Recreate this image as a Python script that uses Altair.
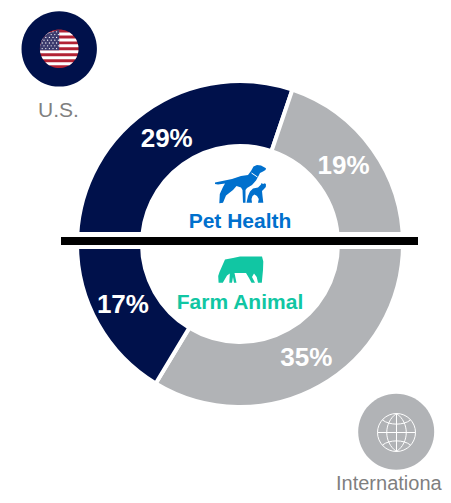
import math
import altair as alt
import pandas as pd

# ---- chart values ----
top_regions = ["U.S.", "International"]
top_values = [29, 19]
bottom_regions = ["International", "U.S."]
bottom_values = [35, 17]
top_title = "Pet Health"
bottom_title = "Farm Animal"

NAVY = "#00114B"
GREY = "#B1B3B6"
BLUE = "#0070CD"
TEAL = "#11C6A3"
TEXT = "#7F7F7F"
FONT = "Liberation Sans"
OX, OY = 8, 8  # page margin


def px(x):
    return alt.value(x - OX)


def py(y):
    return alt.value(y - OY)


color = alt.Color(
    "region:N",
    scale=alt.Scale(domain=["U.S.", "International"], range=[NAVY, GREY]),
    legend=None,
)
CX, CY = 240, 244


def half(regions, values, start, end, nudges):
    df = pd.DataFrame({"region": regions, "value": values, "ord": range(len(values))})
    df["label"] = [f"{v}%" for v in values]
    theta = alt.Theta(
        "value:Q",
        stack=True,
        scale=alt.Scale(domain=[0, sum(values)], range=[start, end]),
    )
    base = alt.Chart(df).encode(theta=theta, order=alt.Order("ord:Q"))
    arc = base.mark_arc(radius=163, radius2=98, stroke="white", strokeWidth=4).encode(
        color=color, x=px(CX), y=py(CY)
    )
    layers = [arc]
    for region, (dx, dy) in zip(regions, nudges):
        layers.append(
            base.mark_text(
                radius=131, font=FONT, fontWeight="bold", fontSize=26, color="white",
                dx=dx, dy=dy,
            ).encode(
                text="label:N",
                x=px(CX),
                y=py(CY),
                opacity=alt.condition(
                    alt.datum.region == region, alt.value(1), alt.value(0)
                ),
            )
        )
    return alt.layer(*layers)


top = half(top_regions, top_values, -math.pi / 2, math.pi / 2, [(3, 1), (-3, -2)])
bottom = half(bottom_regions, bottom_values, math.pi / 2, 3 * math.pi / 2, [(2, 0), (-3, -3)])

one = alt.Chart(pd.DataFrame({"k": [0]}))


def rect(x1, x2, y1, y2, fill):
    return one.mark_rect(color=fill, opacity=1).encode(
        x=px(x1), x2=px(x2), y=py(y1), y2=py(y2)
    )


def shape(path, fill=None, stroke=None, sw=1):
    kw = dict(shape=path, size=4, opacity=1)
    if fill:
        kw.update(filled=True, fill=fill, strokeWidth=0)
    else:
        kw.update(filled=False, stroke=stroke, strokeWidth=sw, fillOpacity=0)
    return one.mark_point(**kw).encode(x=px(0), y=py(0))


def disc(cx, cy, r):
    return (
        f"M{cx-r},{cy}A{r},{r} 0 1 1 {cx+r},{cy}A{r},{r} 0 1 1 {cx-r},{cy}Z"
    )


def text(s, x, y, size, fill, weight="normal", align="center"):
    return one.mark_text(
        text=s, font=FONT, fontSize=size, fontWeight=weight, color=fill, align=align,
        baseline="alphabetic",
    ).encode(x=px(x), y=py(y))


# flag
FX, FY, FR = 59.2, 48.8, 19.3
def chord_band(y0, y1, xmax=None, xmin=None):
    pts_l, pts_r = [], []
    n = 5
    for i in range(n + 1):
        y = y0 + (y1 - y0) * i / n
        dx = math.sqrt(max(FR * FR - (y - FY) ** 2, 0))
        l = FX - dx
        r = FX + dx
        if xmin is not None:
            l = max(l, xmin)
        if xmax is not None:
            r = min(r, xmax)
        pts_l.append((l, y))
        pts_r.append((r, y))
    pts = pts_l + pts_r[::-1]
    return "M" + "L".join(f"{a:.2f},{b:.2f}" for a, b in pts) + "Z"

stripe_h = 2 * FR / 13
canton_y = FY - FR + 7 * stripe_h
white_stripes = "".join(
    chord_band(FY - FR + (2 * i + 1) * stripe_h, FY - FR + (2 * i + 2) * stripe_h)
    for i in range(6)
)
canton = chord_band(FY - FR, canton_y, xmax=FX)
stars = ""
for row in range(7):
    for col in range(5):
        sx = FX - 17 + col * 3.6 + (1.8 if row % 2 else 0)
        sy = FY - 17 + row * 2.8
        if (sx - FX) ** 2 + (sy - FY) ** 2 < (FR - 1) ** 2 and sx < FX - 0.6:
            stars += disc(round(sx, 2), round(sy, 2), 0.65)

# globe
GX, GY, GR = 396.5, 432.5, 19
globe = (
    disc(GX, GY, GR)
    + f"M{GX},{GY-GR}L{GX},{GY+GR}M{GX-GR},{GY}L{GX+GR},{GY}"
    + f"M{GX},{GY-GR}C{GX-13},{GY-10} {GX-13},{GY+10} {GX},{GY+GR}"
    + f"M{GX},{GY-GR}C{GX+13},{GY-10} {GX+13},{GY+10} {GX},{GY+GR}"
    + f"M{GX-14},{GY-12.5}C{GX-7},{GY-7} {GX+7},{GY-7} {GX+14},{GY-12.5}"
    + f"M{GX-14},{GY+12.5}C{GX-7},{GY+7} {GX+7},{GY+7} {GX+14},{GY+12.5}"
)

dog = (
    "M215,182.5L232,179L241,176L248,175L251,171L253.5,166.5L257,165L261,165.5L266,168.3"
    "L265.5,170L263,171.5L260,173L258.5,176L256,180.5L252,185L247,188L245.5,190L245.5,202.8"
    "L243,202.8L242.5,190L241,187.5L236.5,186L233,190L226,195.5L223,202.8L219.3,203.3"
    "L219.8,194L223,187L225,183.5L218,184.5L215,184Z"
    # cat
    "M246.5,202.8L248,196L250,191.5L253,188.5L258,187.5L261,184.5L261.5,183L263,184L265,183.2"
    "L266,184.5L265.8,187L264,189L262,191L262.5,196L263.3,202.8L258,202.8L258.8,199L257,196"
    "L254.5,194.5L252.5,196L251.5,199L252,202.8Z"
)
collar = "M251.5,173L257.5,177"
cow = (
    "M225,259.5L233,258L240,256.5L262,256.5L263.3,261.5L263,270L261.8,282.7L258,282.7L256.7,277"
    "L254,273.5L252,277L255,282.7L251.5,282.7L249,278L246,273L234.5,273L236.5,282.7L234,282.7"
    "L233,277L232,282.7L229.3,282.7L229.8,273.5L227,275.5L222.8,282.7L218.6,282.7L218.2,276L219.5,272Z"
)

band = rect(70, 410, 232, 249, "white")
bar = rect(61, 418, 237, 245, "black")

chart = alt.layer(
    top,
    bottom,
    band,
    bar,
    shape(dog, fill=BLUE),
    shape(collar, stroke="white", sw=1),
    shape(cow, fill=TEAL),
    text(top_title, 240, 228, 21, BLUE, "bold"),
    text(bottom_title, 240, 308.5, 21, TEAL, "bold"),
    shape(disc(59.2, 48.9, 37.7), fill=NAVY),
    shape(disc(FX, FY, FR), fill="#B22234"),
    shape(white_stripes, fill="white"),
    shape(canton, fill="#3C3B6E"),
    shape(stars, fill="white"),
    text("U.S.", 58.5, 117, 21, TEXT),
    shape(disc(396.2, 431.8, 38), fill=GREY),
    shape(globe, stroke="white", sw=1),
    text("Internationa", 336, 490, 20, TEXT, align="left"),
).resolve_scale(theta="independent").properties(
    width=435,
    height=487,
    padding=0,
    autosize=alt.AutoSizeParams(type="none"),
).configure_view(stroke=None)

chart.save("out.html", embed_options={"renderer": "svg", "actions": False})
